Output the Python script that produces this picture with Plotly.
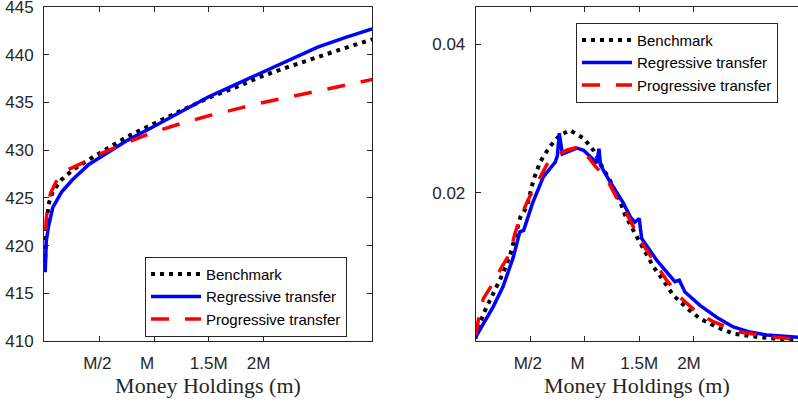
import plotly.graph_objects as go

# ---------------- data (x in units of M) ----------------
# Left panel: value functions
v_x = [0.0, 0.01, 0.03, 0.07, 0.15, 0.25, 0.4, 0.5, 0.75, 1.0, 1.25, 1.5, 1.75, 2.0, 2.25, 2.5, 2.75, 3.0]
v_bench = [418.7, 422.0, 424.3, 425.7, 426.9, 427.9, 429.0, 429.7, 431.4, 432.8, 434.1, 435.5, 436.6, 437.8, 438.8, 439.8, 440.7, 441.6]
v_regr = [417.2, 420.5, 422.0, 424.0, 425.6, 426.9, 428.5, 429.2, 431.0, 432.5, 434.0, 435.6, 436.9, 438.2, 439.5, 440.8, 441.8, 442.7]
v_prog_x = [0.005, 0.01, 0.03, 0.05, 0.1, 0.2, 0.35, 0.5, 0.75, 1.0, 1.25, 1.5, 1.75, 2.0, 2.25, 2.5, 2.75, 3.0]
v_prog = [421.6, 422.8, 424.6, 425.5, 426.7, 427.9, 428.7, 429.6, 430.8, 431.9, 432.8, 433.6, 434.3, 435.0, 435.6, 436.2, 436.8, 437.4]

# Right panel: distributions of money holdings
d_bench_x = [0.0, 0.01, 0.085, 0.16, 0.25, 0.32, 0.41, 0.47, 0.53, 0.59, 0.68, 0.77, 0.865, 0.99, 1.08, 1.17, 1.23, 1.32,
             1.37, 1.45, 1.54, 1.63, 1.72, 1.81, 1.94, 2.06, 2.21, 2.36, 2.61, 2.91, 2.96]
d_bench = [0.0005, 0.0014, 0.0041, 0.0064, 0.0091, 0.0118, 0.0167, 0.0181, 0.0217, 0.0241, 0.0262, 0.0277, 0.0284, 0.0273,
           0.0257, 0.0232, 0.0217, 0.0190, 0.0170, 0.0148, 0.0123, 0.0100, 0.0082, 0.0062, 0.0044, 0.0030, 0.0019, 0.0010,
           0.0005, 0.0002, 0.0001]
d_regr_x = [0.0, 0.01, 0.16, 0.25, 0.345, 0.39, 0.405, 0.44, 0.52, 0.62, 0.73, 0.75, 0.767, 0.795, 0.927, 0.99, 1.08, 1.11,
            1.131, 1.145, 1.23, 1.35, 1.42, 1.46, 1.50, 1.523, 1.66, 1.828, 1.868, 1.92, 2.058, 2.21, 2.363, 2.517, 2.67, 2.96]
d_regr = [0.0003, 0.0008, 0.0046, 0.0073, 0.0113, 0.0140, 0.0147, 0.0149, 0.0185, 0.0221, 0.0241, 0.0250, 0.0280, 0.0252,
          0.0260, 0.0257, 0.0244, 0.0240, 0.0259, 0.0237, 0.0215, 0.0187, 0.0167, 0.0160, 0.0165, 0.0138, 0.0109, 0.0080,
          0.0082, 0.0066, 0.0048, 0.0032, 0.0019, 0.0012, 0.0008, 0.0005]
d_prog_x = [0.0, 0.024, 0.07, 0.147, 0.24, 0.315, 0.36, 0.406, 0.48, 0.636, 0.68, 0.835, 0.957, 1.1, 1.2, 1.29, 1.37, 1.507,
            1.63, 1.752, 1.874, 2.027, 2.18, 2.425, 2.76, 2.88, 2.96]
d_prog = [0.0008, 0.0028, 0.0057, 0.0075, 0.0100, 0.0118, 0.0145, 0.0165, 0.0190, 0.0234, 0.0245, 0.0257, 0.0262, 0.0235,
          0.0219, 0.0194, 0.0176, 0.0136, 0.0109, 0.0082, 0.0059, 0.0039, 0.0026, 0.0012, 0.0005, 0.0003, 0.0002]

series_names = ["Benchmark", "Regressive transfer", "Progressive transfer"]
x_tickvals = [0.5, 1.0, 1.5, 2.0]
x_ticktext = ["M/2\u00a0", "M\u00a0\u00a0\u00a0", "1.5M", "2M\u00a0\u00a0"]
left_yticks = [410, 415, 420, 425, 430, 435, 440, 445]
right_yticks = [0.02, 0.04]

# ---------------- styling ----------------
styles = [
    dict(color="#000000", width=4, dash="4px,5px"),
    dict(color="#0000ff", width=3.5, dash="solid"),
    dict(color="#ff0000", width=3.5, dash="18px,16px"),
]
AX = "#262626"
tickfont = dict(family="Liberation Sans, Arial, sans-serif", size=17, color=AX)
titlefont = dict(family="Liberation Serif, Times New Roman, serif", size=22, color=AX)

fig = go.Figure()
left_data = [(v_x, v_bench), (v_x, v_regr), (v_prog_x, v_prog)]
right_data = [(d_bench_x, d_bench), (d_regr_x, d_regr), (d_prog_x, d_prog)]
for i, (xs, ys) in enumerate(left_data):
    fig.add_trace(go.Scatter(x=xs, y=ys, mode="lines", name=series_names[i], line=styles[i],
                             xaxis="x", yaxis="y", legend="legend"))
for i, (xs, ys) in enumerate(right_data):
    fig.add_trace(go.Scatter(x=xs, y=ys, mode="lines", name=series_names[i], line=styles[i],
                             xaxis="x2", yaxis="y2", legend="legend2"))

common_x = dict(tickvals=x_tickvals, ticktext=x_ticktext, ticks="inside", ticklen=5, tickcolor=AX,
                showline=True, linecolor=AX, linewidth=1, mirror="ticks", showgrid=False, zeroline=False,
                tickfont=tickfont, ticklabelstandoff=7, automargin=False,
                title=dict(text="Money Holdings (m)", font=titlefont, standoff=4))
legend_common = dict(font=dict(family="Liberation Sans, Arial, sans-serif", size=15, color="#000000"),
                     bgcolor="white", bordercolor=AX, borderwidth=1, itemwidth=50,
                     xanchor="left", yanchor="top", tracegroupgap=0)

fig.update_layout(
    width=798, height=402,
    margin=dict(l=0, r=0, t=7, b=61, autoexpand=False),
    plot_bgcolor="white", paper_bgcolor="white",
    xaxis=dict(domain=[44 / 798, 372 / 798], range=[-0.011, 2.998], anchor="y", **common_x),
    yaxis=dict(domain=[0, 1], range=[410, 445.001], tickvals=left_yticks, ticks="inside", ticklen=5, tickcolor=AX,
               showline=True, linecolor=AX, linewidth=1, mirror="ticks", showgrid=False, zeroline=False,
               tickfont=tickfont, ticklabelstandoff=6, ticklabeloverflow="allow", anchor="x", automargin=False),
    xaxis2=dict(domain=[475.7 / 798, 1.0], range=[0, 2.957], anchor="y2", **common_x),
    yaxis2=dict(domain=[0, 1], range=[0, 0.045], tickvals=right_yticks, tickformat=".2f", ticks="inside", ticklen=5,
                tickcolor=AX, showline=True, linecolor=AX, linewidth=1, mirror=False, showgrid=False,
                zeroline=False, tickfont=tickfont, ticklabelstandoff=6, anchor="x2", automargin=False),
    legend=dict(x=145 / 798, y=1 - (256.7 - 7) / 334, **legend_common),
    legend2=dict(x=576 / 798, y=1 - (22.7 - 7) / 334, **legend_common),
    showlegend=True,
)

fig.write_html("out.html", config={"displayModeBar": False},
               post_script="document.body.style.margin='0';document.body.style.overflow='hidden';")
